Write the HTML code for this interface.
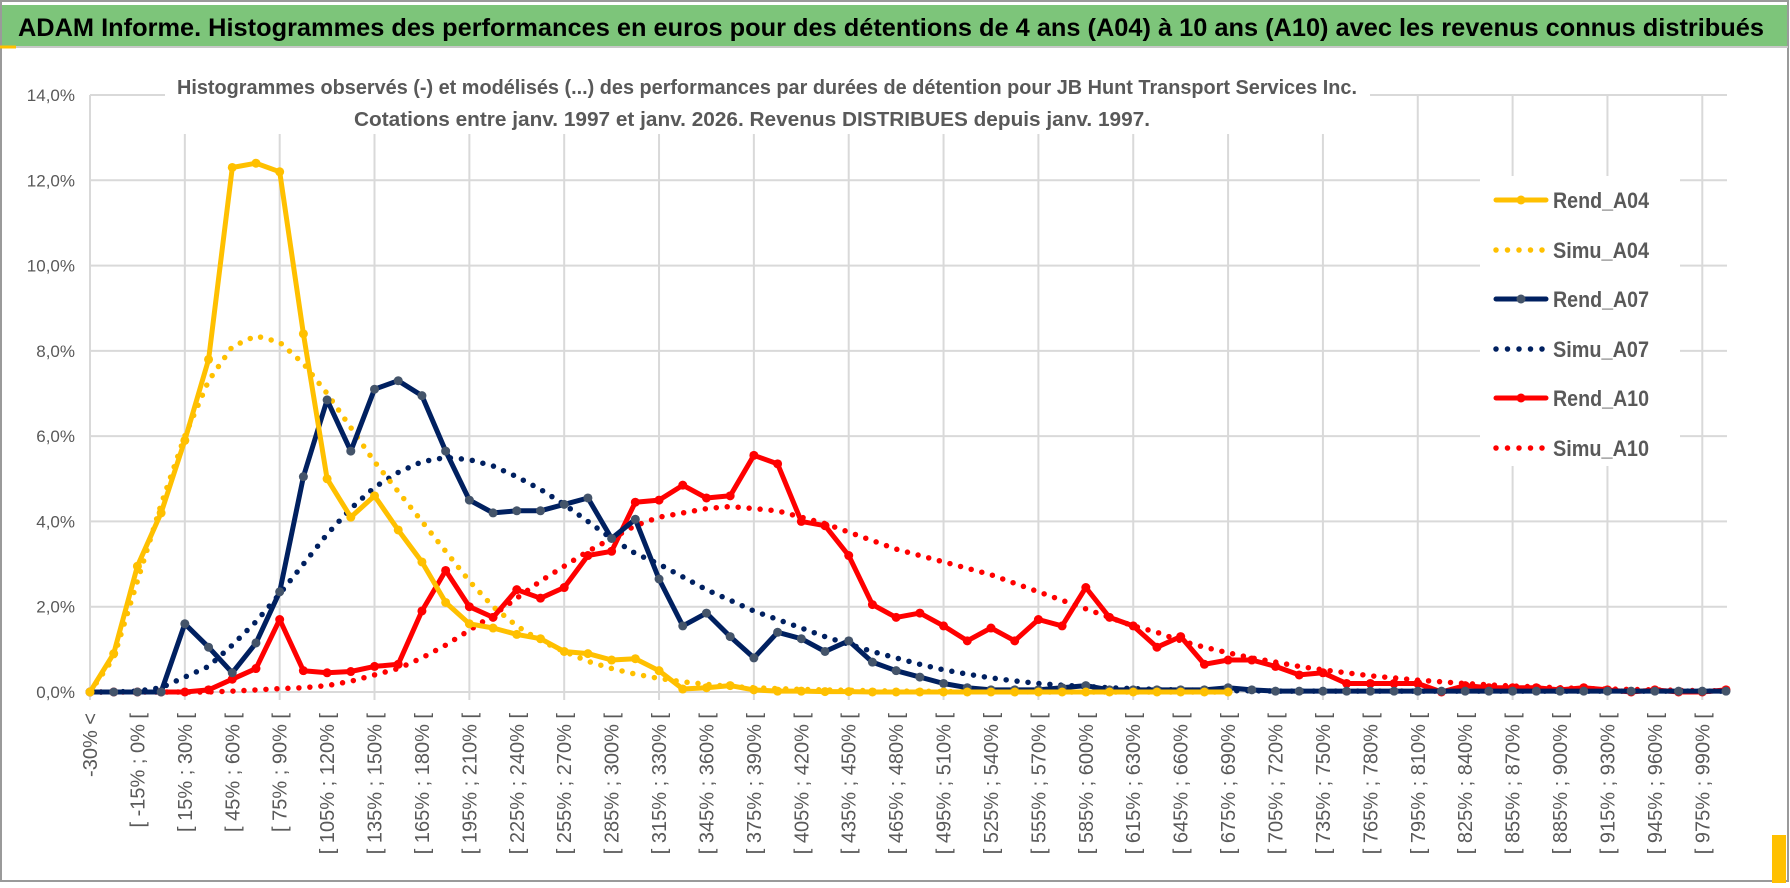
<!DOCTYPE html>
<html><head><meta charset="utf-8">
<style>
html,body{margin:0;padding:0;background:#fff;}
svg{display:block;font-family:"Liberation Sans",sans-serif;}
</style></head>
<body>
<svg id="chart" width="1790" height="888" viewBox="0 0 1790 888" xmlns="http://www.w3.org/2000/svg">
  <rect x="0" y="0" width="1790" height="888" fill="#fff"/>
  <rect x="1" y="1" width="1787" height="880" fill="none" stroke="#9a9a9a" stroke-width="2"/>
  <rect x="2" y="5" width="1785" height="41" fill="#7DC57A"/>
  <line x1="0" y1="47" x2="16" y2="47" stroke="#FFC000" stroke-width="3"/>
  <line x1="16" y1="47" x2="1788" y2="47" stroke="#c8c8c8" stroke-width="2"/>
  <rect x="1772" y="835" width="14" height="48" fill="#FFC000"/>
  <text x="18" y="36" font-size="25" font-weight="bold" fill="#000" textLength="1746" lengthAdjust="spacingAndGlyphs">ADAM Informe. Histogrammes des performances en euros pour des détentions de 4 ans (A04) à 10 ans (A10) avec les revenus connus distribués</text>
  <g id="grid"></g>
  <g id="yaxis"></g>
  <g id="xaxis"></g>
  <rect x="165" y="52" width="1205" height="82" fill="#fff"/>
  <text x="767" y="94" text-anchor="middle" font-size="20" font-weight="bold" fill="#595959" textLength="1180" lengthAdjust="spacingAndGlyphs">Histogrammes observés (-) et modélisés (...) des performances par durées de détention pour JB Hunt Transport Services Inc.</text>
  <text x="752" y="126" text-anchor="middle" font-size="20" font-weight="bold" fill="#595959" textLength="796" lengthAdjust="spacingAndGlyphs">Cotations entre janv. 1997 et janv. 2026. Revenus DISTRIBUES depuis janv. 1997.</text>
  <g id="series"></g>
  <g id="legend"></g>
</svg>
<script>
const NS = "http://www.w3.org/2000/svg";
const rendA04 = [0,0.9,2.95,4.2,5.9,7.8,12.3,12.4,12.2,8.4,5.0,4.1,4.6,3.8,3.05,2.1,1.6,1.5,1.35,1.25,0.95,0.9,0.75,0.78,0.5,0.07,0.1,0.15,0.05,0.02,0.02,0.01,0.01,0,0,0,0,0,0,0,0,0,0,0,0,0,0,0,0,null,null,null,null,null,null,null,null,null,null,null,null,null,null,null,null,null,null,null,null,null];
const simuA04 = [0,0.8,2.6,4.4,6.0,7.3,8.1,8.35,8.2,7.7,7.0,6.2,5.4,4.7,4.0,3.3,2.6,2.0,1.55,1.2,0.95,0.72,0.55,0.42,0.32,0.24,0.18,0.13,0.1,0.08,0.06,0.05,0.04,0.03,0.02,0.02,0.01,0.01,0.01,0.01,0,0,0,0,0,0,0,0,0,null,null,null,null,null,null,null,null,null,null,null,null,null,null,null,null,null,null,null,null,null];
const rendA07 = [0,0,0,0,1.6,1.05,0.45,1.15,2.35,5.05,6.85,5.65,7.1,7.3,6.95,5.65,4.5,4.2,4.25,4.25,4.4,4.55,3.6,4.05,2.65,1.55,1.85,1.3,0.8,1.4,1.25,0.95,1.2,0.7,0.5,0.35,0.2,0.1,0.05,0.05,0.05,0.1,0.15,0.05,0.05,0.05,0.05,0.05,0.1,0.05,0.02,0.02,0.02,0.02,0.02,0.02,0.02,0.02,0.02,0.02,0.02,0.02,0.02,0.02,0.02,0.02,0.02,0.02,0.02,0.02];
const simuA07 = [0,0,0.02,0.1,0.35,0.6,1.1,1.65,2.3,3.0,3.7,4.3,4.8,5.15,5.4,5.5,5.45,5.3,5.05,4.75,4.4,4.0,3.6,3.25,3.0,2.7,2.4,2.15,1.9,1.7,1.5,1.3,1.12,0.95,0.8,0.65,0.52,0.42,0.33,0.26,0.2,0.16,0.13,0.1,0.08,0.06,0.05,0.04,0.03,0.03,0.02,0.02,0.02,0.02,0.02,0.02,0.02,0.02,0.02,0.02,0.02,0.02,0.02,0.02,0.02,0.02,0.02,0.02,0.02,0.02];
const rendA10 = [0,0,0,0,0,0.05,0.3,0.55,1.7,0.5,0.45,0.48,0.6,0.65,1.9,2.85,2.0,1.75,2.4,2.2,2.45,3.2,3.3,4.45,4.5,4.85,4.55,4.6,5.55,5.35,4.0,3.9,3.2,2.05,1.75,1.85,1.55,1.2,1.5,1.2,1.7,1.55,2.45,1.75,1.55,1.05,1.3,0.65,0.75,0.75,0.6,0.4,0.45,0.2,0.2,0.2,0.2,0.0,0.15,0.1,0.1,0.1,0.05,0.1,0.05,0.0,0.05,0.0,0.0,0.05];
const simuA10 = [0,0,0,0,0,0,0.02,0.05,0.08,0.1,0.15,0.25,0.4,0.55,0.8,1.1,1.45,1.8,2.2,2.6,2.95,3.3,3.6,3.9,4.1,4.2,4.3,4.35,4.3,4.25,4.1,3.95,3.75,3.55,3.35,3.2,3.05,2.9,2.75,2.55,2.35,2.15,1.95,1.75,1.55,1.4,1.2,1.05,0.92,0.8,0.7,0.6,0.52,0.45,0.38,0.33,0.28,0.24,0.2,0.17,0.14,0.12,0.1,0.08,0.07,0.06,0.05,0.04,0.03,0.03];
const yTicks = [0,2,4,6,8,10,12,14];
const yTickLabels = ["0,0%","2,0%","4,0%","6,0%","8,0%","10,0%","12,0%","14,0%"];
const categories = ["-30% <"];
for (let k = 1; k < 70; k++) { const lo = -30 + 15*(k-1); categories.push("[ " + lo + "% ; " + (lo+15) + "%"); }

const X0 = 90, X1 = 1726, Y0 = 692, Y14 = 95;
const nCat = categories.length;
function xs(i){ return X0 + (X1 - X0) * i / (nCat - 1); }
function ys(v){ return Y0 - (Y0 - Y14) * v / 14; }
function mk(tag, attrs, parent){ const e = document.createElementNS(NS, tag); for (const k in attrs) e.setAttribute(k, attrs[k]); parent.appendChild(e); return e; }

const grid = document.getElementById('grid');
yTicks.forEach((t, j) => {
  const l = mk('line', {x1: X0, x2: X1+1, y1: ys(t), y2: ys(t), stroke: '#d9d9d9', 'stroke-width': 2}, grid);
  
  
  const tx = mk('text', {x: 75, y: ys(t) + 6, 'text-anchor': 'end', 'font-size': 17, fill: '#595959'}, document.getElementById('yaxis'));
  tx.textContent = yTickLabels[j];
  
  
});
for (let i = 0; i < nCat; i += 4) {
  const l = mk('line', {x1: xs(i), x2: xs(i), y1: ys(14), y2: Y0 + 8, stroke: '#d9d9d9', 'stroke-width': 2}, grid);
  
  
}
const xg = document.getElementById('xaxis');
for (let i = 0; i < nCat; i += 2) {
  const x = xs(i) + 7, y = 713;
  const t = mk('text', {x: x, y: y, 'text-anchor': 'end', 'font-size': 20, fill: '#595959', transform: 'rotate(-90 ' + x + ' ' + y + ')'}, xg);
  t.textContent = categories[i] + (i > 0 ? " [" : "");
  
  
}

const sg = document.getElementById('series');
function pathFor(arr){ let d = '', pen = false; arr.forEach((v, i) => { if (v === null) { pen = false; return; } d += (pen ? 'L' : 'M') + xs(i).toFixed(1) + ' ' + ys(v).toFixed(1) + ' '; pen = true; }); return d; }
function dotted(arr, color, name){
  const p = mk('path', {d: pathFor(arr), fill: 'none', stroke: color, 'stroke-width': 5.5, 'stroke-linecap': 'round', 'stroke-dasharray': '0 11'}, sg);
  
  
}
function solid(arr, color, mcol, name){
  const p = mk('path', {d: pathFor(arr), fill: 'none', stroke: color, 'stroke-width': 5, 'stroke-linejoin': 'round'}, sg);
  
  
  arr.forEach((v, i) => { if (v === null) return;
    const c = mk('circle', {cx: xs(i), cy: ys(v), r: 4.5, fill: mcol}, sg);
    
    
  });
}
dotted(simuA10, '#FF0000', 'simu-a10-line');
dotted(simuA07, '#002060', 'simu-a07-line');
dotted(simuA04, '#FFC000', 'simu-a04-line');
solid(rendA10, '#FF0000', '#FF0000', 'rend-a10-line');
solid(rendA07, '#002060', '#44546A', 'rend-a07-line');
solid(rendA04, '#FFC000', '#FFC000', 'rend-a04-line');

const lg = document.getElementById('legend');
mk('rect', {x: 1480, y: 176, width: 200, height: 290, fill: '#fff'}, lg);
const legNames = ["Rend_A04","Simu_A04","Rend_A07","Simu_A07","Rend_A10","Simu_A10"];
const legColors = ['#FFC000','#FFC000','#002060','#002060','#FF0000','#FF0000'];
const legMarker = ['#FFC000',null,'#44546A',null,'#FF0000',null];
const legY = [200,250,299,349,398,448];
legNames.forEach((n, j) => {
  const g = mk('g', {}, lg);
  
  
  if (legMarker[j]) {
    mk('line', {x1: 1496, x2: 1546, y1: legY[j], y2: legY[j], stroke: legColors[j], 'stroke-width': 5, 'stroke-linecap': 'round'}, g);
    mk('circle', {cx: 1521, cy: legY[j], r: 4.5, fill: legMarker[j]}, g);
  } else {
    mk('line', {x1: 1496, x2: 1546, y1: legY[j], y2: legY[j], stroke: legColors[j], 'stroke-width': 5.5, 'stroke-linecap': 'round', 'stroke-dasharray': '0 11.5'}, g);
  }
  const t = mk('text', {x: 1553, y: legY[j] + 8, 'font-size': 22, 'font-weight': 'bold', fill: '#595959', textLength: 96, lengthAdjust: 'spacingAndGlyphs'}, g);
  t.textContent = n;
});
</script>
</body></html>
